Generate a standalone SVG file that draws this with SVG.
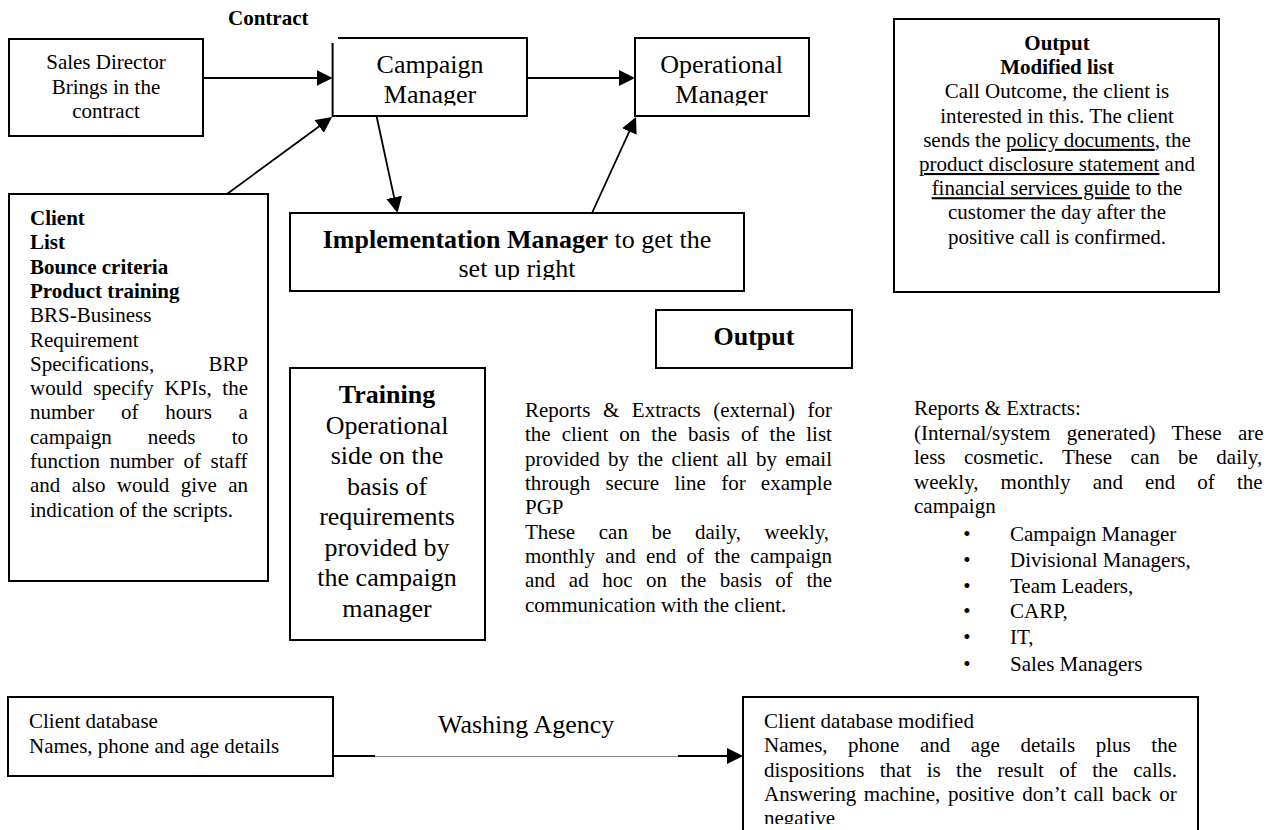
<svg xmlns="http://www.w3.org/2000/svg" width="1274" height="830" viewBox="0 0 1274 830">
<style>
.box{fill:#fff;stroke:#000;stroke-width:2}
.t{font-family:"Liberation Serif","Times New Roman",serif;font-size:21px;fill:#000}
.big{font-size:26px}
.b{font-weight:bold}
.c{text-anchor:middle}
.e{text-anchor:end}
.u{text-decoration:underline}
.conn{stroke:#000;stroke-width:1.8;fill:none}
</style>
<defs>
<marker id="ah" viewBox="0 0 16 16" markerWidth="16" markerHeight="16" refX="13" refY="8" orient="auto" markerUnits="userSpaceOnUse">
<path d="M0,0 L16,8 L0,16 z" fill="#000"/>
</marker>
<clipPath id="clipCM"><rect x="333" y="38" width="194" height="67.5"/></clipPath>
<clipPath id="clipOM"><rect x="635" y="38" width="174" height="67.5"/></clipPath>
<clipPath id="clipIM"><rect x="290" y="213" width="454" height="67"/></clipPath>
<clipPath id="clipDM"><rect x="743" y="697" width="455" height="127"/></clipPath>
</defs>
<rect width="1274" height="830" fill="#fff"/>

<text class="t b" x="228" y="25">Contract</text>

<g id="sales-director">
<rect class="box" x="9" y="39" width="194" height="97"/>
<text class="t c" x="106" y="69">Sales Director</text>
<text class="t c" x="106" y="93.5">Brings in the</text>
<text class="t c" x="106" y="118">contract</text>
</g>

<g id="campaign-manager">
<path d="M338,38 H527 V116 H332.6 V43" fill="#fff" stroke="#000" stroke-width="2"/>
<g clip-path="url(#clipCM)">
<text class="t big c" x="430" y="73.3">Campaign</text>
<text class="t big c" x="430" y="103.3">Manager</text>
</g>
</g>

<g id="operational-manager">
<rect class="box" x="635" y="38" width="174" height="78"/>
<g clip-path="url(#clipOM)">
<text class="t big c" x="721.5" y="73.3">Operational</text>
<text class="t big c" x="721.5" y="103.3">Manager</text>
</g>
</g>

<g id="output-modified-list">
<rect class="box" x="894" y="19" width="325" height="273"/>
<text class="t b c" x="1057" y="50">Output</text>
<text class="t b c" x="1057" y="74.2">Modified list</text>
<text class="t c" x="1057" y="98.4">Call Outcome, the client is</text>
<text class="t c" x="1057" y="122.6">interested in this. The client</text>
<text class="t c" x="1057" y="146.8">sends the <tspan class="u">policy documents</tspan>, the</text>
<text class="t c" x="1057" y="171"><tspan class="u">product disclosure statement</tspan> and</text>
<text class="t c" x="1057" y="195.2"><tspan class="u">financial services guide</tspan> to the</text>
<text class="t c" x="1057" y="219.4">customer the day after the</text>
<text class="t c" x="1057" y="243.6">positive call is confirmed.</text>
</g>

<g id="client">
<rect class="box" x="9" y="194" width="259" height="387"/>
<text class="t b" x="30" y="225">Client</text>
<text class="t b" x="30" y="249.3">List</text>
<text class="t b" x="30" y="273.6">Bounce criteria</text>
<text class="t b" x="30" y="297.9">Product training</text>
<text class="t" x="30" y="322.2">BRS-Business</text>
<text class="t" x="30" y="346.5">Requirement</text>
<text class="t" x="30" y="370.8">Specifications,</text>
<text class="t e" x="248.3" y="370.8">BRP</text>
<text class="t" x="30" y="395.1" word-spacing="5.4">would specify KPIs, the</text>
<text class="t" x="30" y="419.4" word-spacing="21.5">number of hours a</text>
<text class="t" x="30" y="443.7" word-spacing="30.85">campaign needs to</text>
<text class="t" x="30" y="468" word-spacing="4.4">function number of staff</text>
<text class="t" x="30" y="492.3" word-spacing="6.1">and also would give an</text>
<text class="t" x="30" y="516.6">indication of the scripts.</text>
</g>

<g id="implementation-manager">
<rect class="box" x="290" y="213" width="454" height="78"/>
<g clip-path="url(#clipIM)">
<text class="t big c" x="517" y="248.3"><tspan class="b">Implementation Manager</tspan> to get the</text>
<text class="t big c" x="517" y="276.7">set up right</text>
</g>
</g>

<g id="output">
<rect class="box" x="656" y="310" width="196" height="58"/>
<text class="t big b c" x="754" y="345">Output</text>
</g>

<g id="training">
<rect class="box" x="290" y="368" width="195" height="272"/>
<text class="t big b c" x="387" y="403">Training</text>
<text class="t big c" x="387" y="433.5">Operational</text>
<text class="t big c" x="387" y="464">side on the</text>
<text class="t big c" x="387" y="494.5">basis of</text>
<text class="t big c" x="387" y="525">requirements</text>
<text class="t big c" x="387" y="555.5">provided by</text>
<text class="t big c" x="387" y="586">the campaign</text>
<text class="t big c" x="387" y="616.5">manager</text>
</g>

<g id="reports-external">
<text class="t" x="525" y="417" word-spacing="7.35">Reports &amp; Extracts (external) for</text>
<text class="t" x="525" y="441.35" word-spacing="5.77">the client on the basis of the list</text>
<text class="t" x="525" y="465.7" word-spacing="3.15">provided by the client all by email</text>
<text class="t" x="525" y="490.05" word-spacing="9.98">through secure line for example</text>
<text class="t" x="525" y="514.4">PGP</text>
<text class="t" x="525" y="538.75" word-spacing="18.4">These can be daily, weekly,</text>
<text class="t" x="525" y="563.1" word-spacing="5.06">monthly and end of the campaign</text>
<text class="t" x="525" y="587.45" word-spacing="8.29">and ad hoc on the basis of the</text>
<text class="t" x="525" y="611.8">communication with the client.</text>
</g>

<g id="reports-internal">
<text class="t" x="914" y="415">Reports &amp; Extracts:</text>
<text class="t" x="914" y="439.5" word-spacing="11.1">(Internal/system generated) These are</text>
<text class="t" x="914" y="464" word-spacing="13.2">less cosmetic. These can be daily,</text>
<text class="t" x="914" y="488.5" word-spacing="16.8">weekly, monthly and end of the</text>
<text class="t" x="914" y="513">campaign</text>
<text class="t c" x="967" y="540.7">•</text><text class="t" x="1010" y="540.7">Campaign Manager</text>
<text class="t c" x="967" y="566.7">•</text><text class="t" x="1010" y="566.7">Divisional Managers,</text>
<text class="t c" x="967" y="592.5">•</text><text class="t" x="1010" y="592.5">Team Leaders,</text>
<text class="t c" x="967" y="618.3">•</text><text class="t" x="1010" y="618.3">CARP,</text>
<text class="t c" x="967" y="644.3">•</text><text class="t" x="1010" y="644.3">IT,</text>
<text class="t c" x="967" y="670.5">•</text><text class="t" x="1010" y="670.5">Sales Managers</text>
</g>

<g id="client-database">
<rect class="box" x="8" y="697" width="325" height="79"/>
<text class="t" x="29" y="728">Client database</text>
<text class="t" x="29" y="753">Names, phone and age details</text>
</g>

<text class="t big" x="438" y="733">Washing Agency</text>

<g id="client-database-modified">
<rect class="box" x="743" y="697" width="455" height="140"/>
<g clip-path="url(#clipDM)">
<text class="t" x="764" y="728">Client database modified</text>
<text class="t" x="764" y="752.3" word-spacing="15.27">Names, phone and age details plus the</text>
<text class="t" x="764" y="776.6" word-spacing="10.17">dispositions that is the result of the calls.</text>
<text class="t" x="764" y="800.9" word-spacing="2.45">Answering machine, positive don’t call back or</text>
<text class="t" x="764" y="825.2">negative</text>
</g>
</g>

<g id="connectors">
<line class="conn" x1="203" y1="78" x2="329.6" y2="78" marker-end="url(#ah)"/>
<line class="conn" x1="527" y1="78" x2="632" y2="78" marker-end="url(#ah)"/>
<line class="conn" x1="227" y1="194" x2="329.6" y2="118.8" marker-end="url(#ah)"/>
<line class="conn" x1="376.5" y1="116" x2="396.9" y2="210.1" marker-end="url(#ah)"/>
<line class="conn" x1="592" y1="213" x2="634.75" y2="119.7" marker-end="url(#ah)"/>
<line x1="333" y1="756" x2="375" y2="756" stroke="#000" stroke-width="2"/>
<line x1="375" y1="756.5" x2="678" y2="756.5" stroke="#888" stroke-width="1"/>
<line class="conn" x1="678" y1="756" x2="740" y2="756" stroke-width="2" marker-end="url(#ah)"/>
</g>
</svg>
